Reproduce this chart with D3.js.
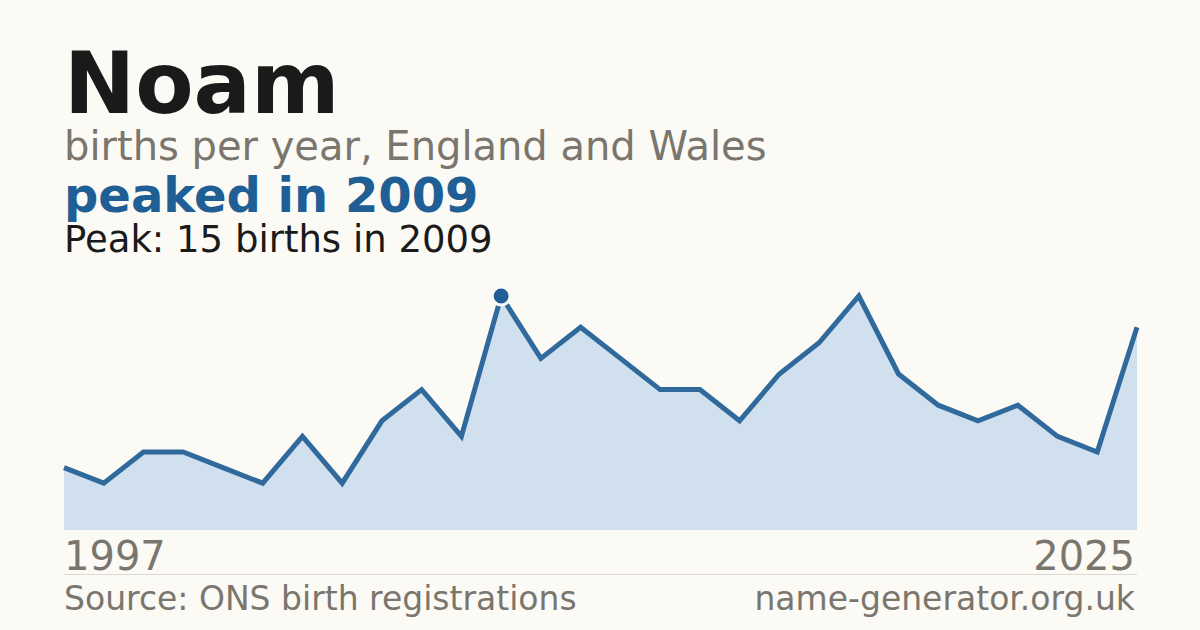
<!DOCTYPE html>
<html>
<head>
<meta charset="utf-8">
<script src="https://cdn.jsdelivr.net/npm/d3@7"></script>
<style>
  html, body { margin: 0; padding: 0; background: #fbfaf5; }
  svg { display: block; font-family: "DejaVu Sans", sans-serif; }
</style>
</head>
<body>
<svg id="chart"></svg>
<script>
// Data (one year is missing from the series)
var years = [1997, 1999, 2000, 2001, 2002, 2003, 2004, 2005, 2006, 2007,
             2008, 2009, 2010, 2011, 2012, 2013, 2014, 2015, 2016, 2017,
             2018, 2019, 2020, 2021, 2022, 2023, 2024, 2025];
var births = [4, 3, 5, 5, 4, 3, 6, 3, 7, 9,
              6, 15, 11, 13, 11, 9, 9, 7, 10, 12,
              15, 10, 8, 7, 8, 6, 5, 13];
var peakYear = 2009;
var peakValue = 15;

var width = 1200, height = 630;
var plotLeft = 64, plotRight = 1137;
var plotTop = 296, plotBottom = 530;

var svg = d3.select("#chart")
  .attr("width", width)
  .attr("height", height)
  .attr("viewBox", "0 0 " + width + " " + height);

svg.append("rect")
  .attr("width", width)
  .attr("height", height)
  .attr("fill", "#fbfaf5");

// Scales
var x = d3.scalePoint()
  .domain(d3.range(years.length))
  .range([plotLeft, plotRight]);

var y = d3.scaleLinear()
  .domain([0, peakValue])
  .range([plotBottom, plotTop]);

var area = d3.area()
  .x(function(d, i) { return x(i); })
  .y0(plotBottom)
  .y1(function(d) { return y(d); });

var line = d3.line()
  .x(function(d, i) { return x(i); })
  .y(function(d) { return y(d); });

svg.append("path")
  .datum(births)
  .attr("d", area)
  .attr("fill", "#d0e0ef");

svg.append("path")
  .datum(births)
  .attr("d", line)
  .attr("fill", "none")
  .attr("stroke", "#30699c")
  .attr("stroke-width", 5)
  .attr("stroke-linejoin", "miter");

// Peak marker (background-coloured halo cuts the line)
var peakIndex = years.indexOf(peakYear);
svg.append("circle")
  .attr("cx", x(peakIndex))
  .attr("cy", y(births[peakIndex]))
  .attr("r", 9)
  .attr("fill", "#1f5f96")
  .attr("stroke", "#fbfaf5")
  .attr("stroke-width", 3);

// Titles
svg.append("text") // Name
  .attr("x", 64)
  .attr("y", 113)
  .style("font-size", "85px")
  .style("font-weight", "bold")
  .style("fill", "#1a1a1a")
  .text("Noam");

svg.append("text") // Subtitle
  .attr("x", 64)
  .attr("y", 160)
  .style("font-size", "40px")
  .style("fill", "#7a766e")
  .text("births per year, England and Wales");

svg.append("text") // Headline
  .attr("x", 64)
  .attr("y", 212)
  .style("font-size", "48px")
  .style("font-weight", "bold")
  .style("fill", "#1f5f96")
  .text("peaked in " + peakYear);

svg.append("text") // Peak note
  .attr("x", 64)
  .attr("y", 252)
  .style("font-size", "37px")
  .style("fill", "#1a1a1a")
  .text("Peak: " + peakValue + " births in " + peakYear);

// Year labels
svg.append("text")
  .attr("x", plotLeft)
  .attr("y", 570)
  .style("font-size", "40px")
  .style("fill", "#7a766e")
  .text(years[0]);

svg.append("text")
  .attr("x", plotRight - 2)
  .attr("y", 570)
  .attr("text-anchor", "end")
  .style("font-size", "40px")
  .style("fill", "#7a766e")
  .text(years[years.length - 1]);

// Rule and footer
svg.append("line")
  .attr("x1", plotLeft)
  .attr("x2", plotRight)
  .attr("y1", 574.5)
  .attr("y2", 574.5)
  .attr("stroke", "#dcd9d2")
  .attr("stroke-width", 1);

svg.append("text")
  .attr("x", plotLeft)
  .attr("y", 610)
  .style("font-size", "33px")
  .style("fill", "#7a766e")
  .text("Source: ONS birth registrations");

svg.append("text")
  .attr("x", plotRight - 2)
  .attr("y", 610)
  .attr("text-anchor", "end")
  .style("font-size", "33px")
  .style("fill", "#7a766e")
  .text("name-generator.org.uk");
</script>
</body>
</html>
